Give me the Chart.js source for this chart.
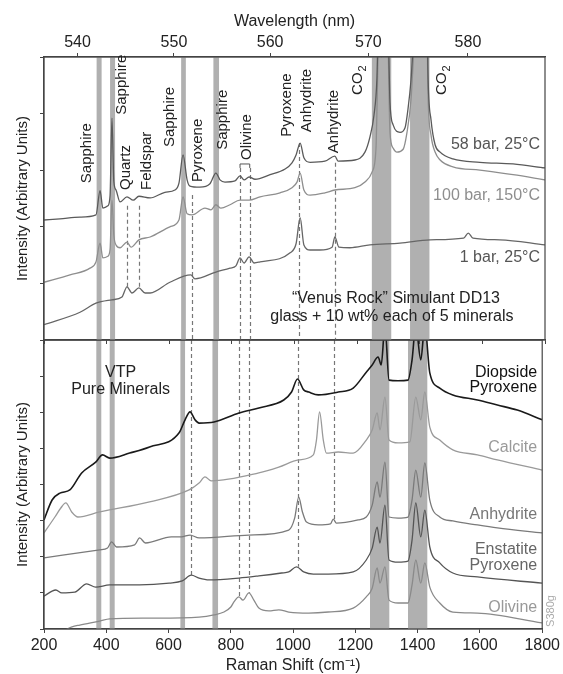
<!DOCTYPE html>
<html>
<head>
<meta charset="utf-8">
<script src="https://cdn.jsdelivr.net/npm/chart.js@4"></script>
<style>
  body { margin: 0; background: #fff; }
  #wrap { position: relative; width: 563px; height: 674px; }
  #wrap canvas { position: absolute; left: 0; }
  #bottomChart { top: 340px; }
  #topChart { top: 0; }
</style>
</head>
<body>
<div id="wrap">
  <canvas id="bottomChart" width="563" height="334"></canvas>
  <canvas id="topChart" width="563" height="344"></canvas>
</div>
<script>
// Raman shift (cm-1) vs intensity
// top panel: "Venus Rock" simulant at three conditions
const bar58 = [[200,21.2],[251,21.4],[315,21.7],[366,22.1],[379,26.4],[388,23.3],[404,23.7],[411,25.5],[417,39.2],[423,28.0],[430,26.5],[443,24.4],[465,25.3],[485,24.7],[503,25.4],[539,25.1],[586,26.1],[618,26.5],[631,27.7],[644,32.7],[657,28.3],[666,27.2],[698,27.0],[730,27.6],[749,29.5],[762,28.3],[778,27.9],[810,28.1],[826,29.0],[839,28.3],[855,28.8],[874,28.4],[922,29.2],[970,30.2],[992,31.3],[1005,32.7],[1018,34.8],[1030,32.2],[1050,31.4],[1097,31.6],[1129,32.5],[1139,31.6],[1193,31.8],[1225,33.2],[1241,35.9],[1254,39.8],[1263,45.9],[1270,60],[1277,56],[1283,58],[1296,62],[1305,41.9],[1315,38.0],[1337,36.7],[1353,37.5],[1362,40.6],[1372,45.9],[1382,55],[1394,65],[1410,58],[1423,62],[1426,47.7],[1436,38.9],[1449,34.5],[1465,33.2],[1506,32.0],[1592,31.4],[1698,31.1],[1800,30.4]];
const bar100 = [[200,10.2],[283,11.5],[347,12.7],[366,13.8],[379,17.1],[388,14.5],[404,14.8],[411,16.0],[417,24.7],[423,18.5],[430,16.8],[443,16.3],[465,17.3],[478,16.4],[503,17.7],[539,18.2],[602,20.0],[631,21.2],[644,25.3],[657,22.3],[673,22.1],[714,23.3],[733,23.0],[749,23.9],[765,23.3],[794,23.9],[826,24.7],[855,24.7],[890,25.3],[954,26.0],[992,26.9],[1008,27.9],[1018,29.5],[1030,26.5],[1050,25.6],[1097,26.0],[1129,26.5],[1193,26.9],[1225,27.9],[1248,29.7],[1260,33.6],[1270,55],[1277,50],[1283,52],[1296,58],[1305,36.6],[1315,33.9],[1327,33.2],[1347,33.7],[1359,36.6],[1372,42.4],[1382,52],[1394,60],[1410,55],[1423,58],[1426,44.2],[1436,36.2],[1449,33.2],[1465,31.8],[1506,30.6],[1592,30.0],[1698,29.2],[1800,28.3]];
const bar1 = [[200,2.7],[315,4.9],[366,6.5],[417,7.1],[449,7.6],[465,9.4],[481,8.3],[503,9.2],[523,8.3],[539,8.3],[602,10.2],[669,11.5],[682,10.8],[749,12.0],[794,12.7],[813,13.1],[826,14.5],[839,13.6],[855,14.7],[871,13.6],[890,13.8],[986,15.4],[1005,17.0],[1018,21.6],[1030,16.8],[1050,15.9],[1081,15.9],[1120,16.4],[1129,18.2],[1142,16.4],[1177,16.3],[1241,16.8],[1337,17.1],[1433,17.7],[1540,18.0],[1555,18.9],[1570,18.0],[1656,17.7],[1800,16.8]];

// bottom panel: VTP pure minerals
const diopside = [[200,30.2],[226,35.7],[251,37.6],[283,38.5],[321,43.2],[366,46.2],[388,48.2],[411,47.3],[475,48.7],[539,50.4],[634,54.3],[653,57.9],[669,60.1],[685,57.9],[698,57.0],[746,57.3],[826,59.8],[890,61.2],[970,63.4],[995,65.6],[1014,69.2],[1034,66.2],[1050,65.6],[1081,64.8],[1145,65.6],[1193,66.7],[1235,71.1],[1254,73.1],[1273,75.3],[1283,73.1],[1295,84],[1308,68.9],[1337,68.7],[1369,68.9],[1382,74.5],[1394,84],[1410,74.5],[1423,84],[1439,70.9],[1471,66.7],[1513,64.8],[1592,63.4],[1656,62.0],[1720,60.6],[1800,57.9]];
const calcite = [[200,26.6],[235,31.0],[254,33.5],[270,34.9],[289,32.4],[309,31.0],[379,32.4],[539,35.2],[666,38.5],[698,40.4],[717,42.1],[737,41.0],[890,43.2],[954,44.8],[1018,46.8],[1065,48.2],[1075,52.3],[1085,60.1],[1097,52.3],[1107,48.7],[1145,49.0],[1193,48.7],[1235,52.3],[1254,55.1],[1270,59.8],[1279,55.1],[1295,64.2],[1308,52.3],[1337,51.5],[1375,51.8],[1394,64.2],[1410,57.9],[1423,65.6],[1439,55.9],[1471,52.3],[1513,49.6],[1592,48.2],[1656,46.8],[1800,44.0]];
const anhydrite = [[200,19.7],[379,21.9],[404,22.4],[417,24.1],[433,22.7],[491,23.3],[507,25.2],[526,23.8],[609,25.5],[641,25.5],[669,26.0],[698,25.2],[858,26.0],[986,27.4],[1005,30.7],[1018,36.5],[1030,32.4],[1043,29.6],[1081,28.8],[1120,29.1],[1129,30.4],[1139,29.3],[1209,30.2],[1235,31.0],[1254,34.3],[1270,40.7],[1279,36.5],[1295,46.2],[1308,31.0],[1337,30.7],[1369,31.0],[1382,35.7],[1394,44.0],[1410,36.5],[1423,46.0],[1439,35.7],[1471,31.0],[1513,29.9],[1592,28.8],[1656,28.0],[1800,26.6]];
const enstatite = [[200,9.1],[226,10.5],[238,10.8],[257,10.0],[299,10.2],[337,12.5],[366,11.6],[411,12.2],[507,12.2],[602,12.7],[644,13.3],[673,14.9],[698,14.1],[730,13.6],[826,14.1],[890,14.7],[963,15.5],[986,15.8],[1011,17.2],[1034,15.8],[1065,15.2],[1113,15.2],[1193,15.8],[1235,19.1],[1254,22.4],[1270,28.2],[1279,23.8],[1295,34.3],[1308,19.1],[1337,18.5],[1369,18.8],[1382,24.6],[1394,34.9],[1410,25.5],[1423,32.9],[1439,22.7],[1471,18.3],[1513,15.5],[1592,14.4],[1800,12.7]];
const olivine = [[200,-3.0],[251,-1.0],[270,-0.2],[290,0.6],[315,1.1],[379,2.2],[411,2.8],[539,3.0],[698,3.3],[746,3.9],[778,4.7],[800,6.1],[810,7.5],[826,8.9],[839,8.0],[858,10.0],[874,8.0],[890,5.8],[922,5.0],[954,5.3],[986,4.7],[1050,4.4],[1113,4.7],[1193,5.8],[1235,8.9],[1254,11.3],[1270,16.9],[1279,12.7],[1295,17.2],[1308,8.0],[1337,7.2],[1369,7.2],[1382,12.2],[1394,19.1],[1410,12.7],[1423,18.3],[1439,11.6],[1471,7.2],[1513,4.7],[1592,4.4],[1800,1.7]];

// shaded sapphire / CO2 windows (cm-1)
const bands = [[368,384],[411,427],[638,653],[741,759],[1247,1309],[1369,1431]];
// dashed guide lines: [shift, from, to]
const topDashes = [[466,23.7,9.4],[504,23.7,9.2],[673,25.6,0],[826,30.4,0],[857,30.4,0],[1015,34.8,0],[1130,31.3,0]];
const bottomDashes = [[673,80,14.9],[826,80,8.9],[857,80,10.0],[1015,80,17.2],[1130,80,30.4]];

// top wavelength axis
const wavePos = [307, 615, 922, 1236, 1554];
const waveLabels = ['540', '550', '560', '570', '580'];

// peak labels (vertical text): [text, shift, bottom of text]
const peakLabels = [['Sapphire',337,27.7],['Sapphire',449,39.8],['Quartz',462,26.5],['Feldspar',529,26.5],['Sapphire',602,34.1],['Pyroxene',692,27.9],['Sapphire',772,33.6],['Olivine',848,31.8],['Pyroxene',976,35.9],['Anhydrite',1040,36.7],['Anhydrite',1126,33.0]];
const co2Labels = [[1203,43.3],[1471,43.3]];

const topSide = [['58 bar, 25°C',34.5,'#555'],['100 bar, 150°C',25.6,'#8e8e8e'],['1 bar, 25°C',14.5,'#555']];
const bottomSide = [['Diopside',70.9,'#111'],['Pyroxene',66.7,'#111'],['Calcite',50.1,'#9a9a9a'],['Anhydrite',31.6,'#777'],['Enstatite',21.9,'#666'],['Pyroxene',17.6,'#666'],['Olivine',5.8,'#999']];
const topNotes = [['\u201cVenus Rock\u201d Simulant DD13',1324,7.4],['glass + 10 wt% each of 5 minerals',1311,4.1]];
const bottomNotes = [['VTP',446,71.1],['Pure Minerals',446,66.2]];

Chart.defaults.font.family = "'Liberation Sans', Arial, sans-serif";
Chart.defaults.color = '#222';

const toXY = (arr) => arr.map(([x, y]) => ({ x, y }));

function line(label, arr, color, width) {
  return {
    label,
    data: toXY(arr),
    borderColor: color,
    borderWidth: width || 1.3,
    pointRadius: 0,
    cubicInterpolationMode: 'monotone',
    fill: false,
  };
}

function makeDecor(cfg) {
  return {
    id: 'decor',
    beforeDatasetsDraw(chart) {
      const { ctx, chartArea: a, scales: { x, y } } = chart;
      ctx.save();
      ctx.beginPath();
      ctx.rect(a.left, a.top, a.right - a.left, a.bottom - a.top);
      ctx.clip();
      ctx.fillStyle = '#b0b0b0';
      bands.forEach(([lo, hi]) => {
        const x0 = x.getPixelForValue(lo);
        const x1 = x.getPixelForValue(hi);
        ctx.fillRect(x0, a.top, x1 - x0, a.bottom - a.top);
      });
      ctx.setLineDash([4, 3]);
      ctx.strokeStyle = '#777';
      ctx.lineWidth = 1.2;
      cfg.dashes.forEach(([pos, from, to]) => {
        const px = Math.round(x.getPixelForValue(pos)) + 0.5;
        ctx.beginPath();
        ctx.moveTo(px, y.getPixelForValue(from));
        ctx.lineTo(px, y.getPixelForValue(to));
        ctx.stroke();
      });
      ctx.restore();
    },
    afterDatasetsDraw(chart) {
      const { ctx, chartArea: a, scales: { x, y } } = chart;
      ctx.save();
      ctx.strokeStyle = '#444';
      ctx.lineWidth = 1.2;
      ctx.strokeRect(a.left, a.top, a.right - a.left, a.bottom - a.top);

      const rightX = a.right - 5;
      ctx.textAlign = 'right';
      ctx.textBaseline = 'middle';
      ctx.font = "16px 'Liberation Sans', Arial, sans-serif";
      cfg.side.forEach(([t, v, c]) => {
        ctx.fillStyle = c;
        ctx.fillText(t, rightX, y.getPixelForValue(v));
      });

      ctx.textAlign = 'center';
      ctx.fillStyle = '#222';
      cfg.notes.forEach(([t, pos, v]) => {
        ctx.fillText(t, x.getPixelForValue(pos), y.getPixelForValue(v));
      });

      if (cfg.top) {
        ctx.font = "15px 'Liberation Sans', Arial, sans-serif";
        ctx.textAlign = 'left';
        peakLabels.forEach(([t, pos, v]) => {
          ctx.save();
          ctx.translate(x.getPixelForValue(pos), y.getPixelForValue(v));
          ctx.rotate(-Math.PI / 2);
          ctx.fillText(t, 0, 0);
          ctx.restore();
        });
        co2Labels.forEach(([pos, v]) => {
          ctx.save();
          ctx.translate(x.getPixelForValue(pos), y.getPixelForValue(v));
          ctx.rotate(-Math.PI / 2);
          ctx.font = "15px 'Liberation Sans', Arial, sans-serif";
          ctx.fillText('CO', 0, 0);
          const w = ctx.measureText('CO').width;
          ctx.font = "11px 'Liberation Sans', Arial, sans-serif";
          ctx.fillText('2', w + 1, 5);
          ctx.restore();
        });
        // small bracket joining the two olivine lines
        ctx.strokeStyle = '#555';
        ctx.lineWidth = 1;
        const bx0 = x.getPixelForValue(826), bx1 = x.getPixelForValue(857);
        const by0 = y.getPixelForValue(30.4), by1 = y.getPixelForValue(31.1);
        ctx.beginPath();
        ctx.moveTo(bx0, by0); ctx.lineTo(bx0, by1); ctx.lineTo(bx1, by1); ctx.lineTo(bx1, by0);
        ctx.stroke();
      } else {
        ctx.save();
        ctx.translate(a.right + 9, a.bottom - 18);
        ctx.rotate(-Math.PI / 2);
        ctx.font = "11px 'Liberation Sans', Arial, sans-serif";
        ctx.fillStyle = '#aaa';
        ctx.textAlign = 'center';
        ctx.fillText('S380g', 0, 0);
        ctx.restore();
      }
      ctx.restore();
    },
  };
}

const yAxis = (max, step) => ({
  min: 0,
  max: max,
  ticks: { display: false, stepSize: step },
  grid: { drawOnChartArea: false, tickLength: 4, color: '#444' },
  border: { display: true, color: '#444', width: 1.2 },
  title: { display: true, text: 'Intensity (Arbitrary Units)', font: { size: 15 }, padding: { top: 14, bottom: 0 } },
  afterFit: (s) => { s.width = 44; },
});

new Chart(document.getElementById('topChart'), {
  type: 'line',
  data: {
    datasets: [
      line('58 bar, 25°C', bar58, '#5a5a5a'),
      line('100 bar, 150°C', bar100, '#8e8e8e'),
      line('1 bar, 25°C', bar1, '#666'),
    ],
  },
  options: {
    responsive: false,
    animation: false,
    layout: { padding: { left: 0, right: 18, top: 0, bottom: 0 } },
    plugins: { legend: { display: false }, tooltip: { enabled: false } },
    scales: {
      x: {
        type: 'linear', min: 200, max: 1800,
        ticks: { display: false, stepSize: 200 },
        grid: { drawOnChartArea: false, tickLength: 4, color: '#444' },
        border: { display: true, color: '#444', width: 1.2 },
        afterFit: (s) => { s.height = 4; },
      },
      x2: {
        type: 'linear', position: 'top', min: 200, max: 1800,
        afterBuildTicks: (s) => { s.ticks = wavePos.map((v) => ({ value: v })); },
        ticks: { callback: (v, i) => waveLabels[i], autoSkip: false, maxRotation: 0, padding: 1, font: { size: 16 } },
        grid: { drawOnChartArea: false, tickLength: 4, color: '#444' },
        border: { display: true, color: '#444', width: 1.2 },
        title: { display: true, text: 'Wavelength (nm)', font: { size: 16, lineHeight: 1 }, padding: { top: 14, bottom: 0 } },
        afterFit: (s) => { s.height = 57; },
      },
      y: yAxis(50, 10),
    },
  },
  plugins: [makeDecor({ dashes: topDashes, side: topSide, notes: topNotes, top: true })],
});

new Chart(document.getElementById('bottomChart'), {
  type: 'line',
  data: {
    datasets: [
      line('Diopside Pyroxene', diopside, '#1a1a1a', 1.6),
      line('Calcite', calcite, '#9a9a9a'),
      line('Anhydrite', anhydrite, '#7a7a7a'),
      line('Enstatite Pyroxene', enstatite, '#555'),
      line('Olivine', olivine, '#8a8a8a'),
    ],
  },
  options: {
    responsive: false,
    animation: false,
    layout: { padding: { left: 0, right: 18, top: 0, bottom: 0 } },
    plugins: { legend: { display: false }, tooltip: { enabled: false } },
    scales: {
      x: {
        type: 'linear', min: 200, max: 1800,
        ticks: { stepSize: 200, autoSkip: false, maxRotation: 0, font: { size: 16 }, callback: (v) => String(v) },
        grid: { drawOnChartArea: false, tickLength: 4, color: '#444' },
        border: { display: true, color: '#444', width: 1.2 },
        title: { display: true, text: 'Raman Shift (cm\u207B\u00B9)', font: { size: 16, lineHeight: 1 }, padding: { top: 0, bottom: 0 } },
        afterFit: (s) => { s.height = 45; },
      },
      y: yAxis(80, 10),
    },
  },
  plugins: [makeDecor({ dashes: bottomDashes, side: bottomSide, notes: bottomNotes, top: false })],
});
</script>
</body>
</html>
